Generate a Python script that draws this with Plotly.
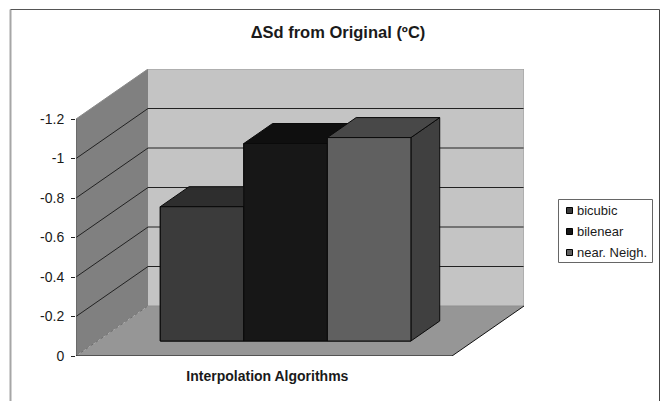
import plotly.graph_objects as go

# Data
series_names = ["bicubic", "bilenear", "near. Neigh."]
series_values = [-0.68, -1.0, -1.03]
category = "Interpolation Algorithms"
tick_values = [0, -0.2, -0.4, -0.6, -0.8, -1, -1.2]
tick_labels = ["0", "-0.2", "-0.4", "-0.6", "-0.8", "-1", "-1.2"]
front_colors = ["#3b3b3b", "#171717", "#606060"]
top_colors = ["#2e2e2e", "#0f0f0f", "#484848"]
side_colors = ["#2b2b2b", "#101010", "#404040"]

W, H = 664, 401
L, R, T, B = 76, 524, 69, 356   # plot box in window pixels
FLOOR_W = 376
DX = 72 / FLOOR_W          # x shift for full depth
DY = -50 / 197.5           # value shift for full depth
X_MAX = 1 + DX
Y_MAX = -1.2 + DY
NEAR, FAR = 0.3, 0.7       # bar depth extent
BAR_W = 1 / 4.5
GAP = 0.75 * BAR_W


def proj(x, v, d):
    return x + d * DX, v + d * DY


def poly(points):
    xs = [proj(*p)[0] for p in points]
    ys = [proj(*p)[1] for p in points]
    return xs, ys


def path(points):
    xs, ys = poly(points)
    return "M" + " L".join(f"{a:.5f},{b:.5f}" for a, b in zip(xs, ys)) + " Z"


def wall(points, fill):
    return dict(type="path", path=path(points), xref="x", yref="y", layer="below",
                fillcolor=fill, line=dict(color="rgba(0,0,0,0)", width=0))


def seg(a, b, color="#222222", width=1, dash="solid"):
    (x0, y0), (x1, y1) = proj(*a), proj(*b)
    return dict(type="line", x0=x0, y0=y0, x1=x1, y1=y1, xref="x", yref="y",
                layer="below", line=dict(color=color, width=width, dash=dash))


vmax = tick_values[-1]
shapes = [
    wall([(0, 0, 1), (1, 0, 1), (1, vmax, 1), (0, vmax, 1)], "#c4c4c4"),
    wall([(0, 0, 0), (0, 0, 1), (0, vmax, 1), (0, vmax, 0)], "#808080"),
    wall([(0, 0, 0), (1, 0, 0), (1, 0, 1), (0, 0, 1)], "#969696"),
]
for t in tick_values[1:-1]:
    shapes.append(seg((0, t, 0), (0, t, 1)))
    shapes.append(seg((0, t, 1), (1, t, 1)))
shapes += [
    seg((0, vmax, 0), (0, vmax, 1), "#8a8a8a"),
    seg((0, vmax, 1), (1, vmax, 1), "#9a9a9a"),
    seg((1, vmax, 1), (1, 0, 1), "#9a9a9a"),
    seg((0, 0, 1), (1, 0, 1), "#909090"),
    seg((0, 0, 0), (0, 0, 1), "#6e6e6e", 1, "dot"),
    seg((0, 0, 0), (0, vmax, 0), "#555555"),
    seg((0, 0, 0), (1, 0, 0), "#111111"),
    seg((1, 0, 0), (1, 0, 1), "#111111"),
]
px = lambda p: (p - L) / (R - L)
py = lambda p: (B - p) / (B - T)


def paper_line(x0, y0, x1, y1, c, w):
    return dict(type="line", xref="paper", yref="paper", x0=px(x0), y0=py(y0),
                x1=px(x1), y1=py(y1), layer="below", line=dict(color=c, width=w))


def paper_rect(x0, y0, x1, y1, fill, c):
    return dict(type="rect", xref="paper", yref="paper", x0=px(x0), y0=py(y0),
                x1=px(x1), y1=py(y1), layer="below", fillcolor=fill,
                line=dict(color=c, width=1))


# Outer chart frame
shapes += [paper_line(10.5, 9.5, 10.5, 401, "#a6a6a6", 2),
           paper_line(10.5, 9.5, 659.5, 9.5, "#555555", 1),
           paper_line(659.5, 9.5, 659.5, 401, "#444444", 1)]

# Legend box, swatches and labels
shapes.append(paper_rect(558.5, 199.5, 652.5, 262.5, "#ffffff", "#666666"))
legend_rows = [210.5, 231.5, 252.5]
annotations = []
for name, col, row in zip(series_names, front_colors, legend_rows):
    shapes.append(paper_rect(566.5, row - 3, 572.5, row + 3, col, "#000000"))
    annotations.append(dict(text=name, xref="paper", yref="paper", x=px(575), y=py(row),
                            xanchor="left", yanchor="middle", showarrow=False,
                            font=dict(size=13, color="#1a1a1a")))

fig = go.Figure()
starts = [GAP + i * BAR_W for i in range(len(series_values))]

# Front faces as bars
for i, (name, val) in enumerate(zip(series_names, series_values)):
    x_front, base = proj(starts[i], 0, NEAR)
    fig.add_trace(go.Bar(x=[x_front + BAR_W / 2], y=[val], base=[base], width=[BAR_W], name=name,
                         marker=dict(color=front_colors[i], line=dict(color="#000000", width=1)),
                         hoverinfo="skip", showlegend=False))

# Painter's order: side, top, front of each bar, so later bars cover earlier ones
for i, val in enumerate(series_values):
    x0, x1 = starts[i], starts[i] + BAR_W
    faces = [
        ([(x1, 0, NEAR), (x1, 0, FAR), (x1, val, FAR), (x1, val, NEAR)], side_colors[i]),
        ([(x0, val, NEAR), (x1, val, NEAR), (x1, val, FAR), (x0, val, FAR)], top_colors[i]),
        ([(x0, 0, NEAR), (x1, 0, NEAR), (x1, val, NEAR), (x0, val, NEAR)], front_colors[i]),
    ]
    for pts, col in faces:
        xs, ys = poly(pts + pts[:1])
        fig.add_trace(go.Scatter(x=xs, y=ys, mode="lines", fill="toself", fillcolor=col,
                                 line=dict(color="#0a0a0a", width=1), showlegend=False,
                                 hoverinfo="skip"))

fig.update_layout(
    width=W, height=H, autosize=False, barmode="overlay",
    margin=dict(l=L, r=W - R, t=T, b=H - B, autoexpand=False),
    paper_bgcolor="#ffffff", plot_bgcolor="rgba(0,0,0,0)",
    font=dict(family="Liberation Sans, Arial, sans-serif", color="#000000"),
    title=dict(text="<b>ΔSd from Original (ºC)</b>", x=338 / W, xanchor="center",
               y=1 - 32 / H, yanchor="middle",
               font=dict(size=16.5, color="#1a1a1a")),
    shapes=shapes,
    annotations=annotations,
    showlegend=False,
    xaxis=dict(range=[0, X_MAX], showgrid=False, zeroline=False, showline=False,
               tickmode="array", tickvals=[0.509], ticktext=[f"<b>{category}</b>"],
               ticks="outside", ticklen=7, tickcolor="rgba(0,0,0,0)",
               tickfont=dict(size=14, color="#1a1a1a")),
    yaxis=dict(range=[0, Y_MAX], showgrid=False, zeroline=False, showline=False,
               tickmode="array", tickvals=tick_values, ticktext=tick_labels,
               ticks="outside", ticklen=4, tickcolor="#222222", ticklabelstandoff=4,
               tickfont=dict(size=14, color="#1a1a1a")),
)
# Drop the page's default margin so the figure fills the 664x401 window exactly
fig.write_html("out.html",
               config={"displayModeBar": False},
               post_script="document.documentElement.style.overflow='hidden';"
                           "document.body.style.margin='0';")
